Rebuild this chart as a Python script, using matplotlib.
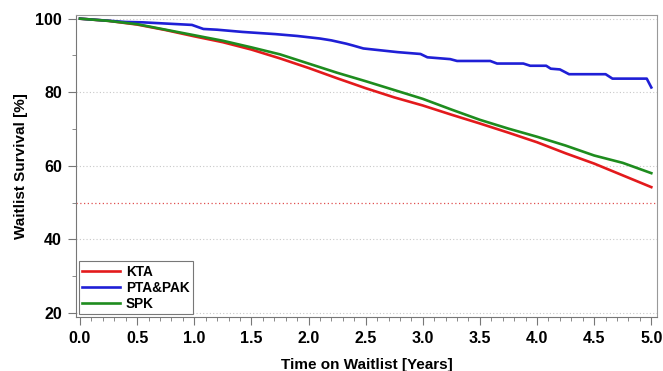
import matplotlib
matplotlib.use('Agg')
from matplotlib import pyplot as plt
from matplotlib.ticker import MultipleLocator

# KTA / SPK survival read every 0.25 years
t_grid = [0, 0.25, 0.5, 0.75, 1.0, 1.25, 1.5, 1.75, 2.0, 2.25, 2.5,
          2.75, 3.0, 3.25, 3.5, 3.75, 4.0, 4.25, 4.5, 4.75, 5.0]
kta = [100, 99.4, 98.4, 96.9, 95.2, 93.6, 91.6, 89.2, 86.6, 83.8, 81.1,
       78.6, 76.4, 73.9, 71.5, 69.0, 66.4, 63.4, 60.6, 57.4, 54.2]
spk = [100, 99.4, 98.5, 97.0, 95.5, 94.0, 92.2, 90.3, 87.8, 85.3, 83.0,
       80.6, 78.2, 75.3, 72.5, 70.1, 67.9, 65.5, 62.8, 60.8, 58.0]

t_pta = [0, 0.4, 0.55, 0.98, 1.08, 1.2, 1.42, 1.71, 1.9, 2.1, 2.2, 2.33,
         2.39, 2.48, 2.63, 2.78, 2.98, 3.04, 3.24, 3.30, 3.59, 3.65, 3.88,
         3.94, 4.08, 4.12, 4.2, 4.28, 4.60, 4.66, 4.96, 5.0]
pta = [100, 99.1, 99.0, 98.3, 97.2, 97.0, 96.4, 95.8, 95.3, 94.6, 94.1, 93.2,
       92.7, 91.9, 91.4, 90.9, 90.4, 89.5, 89.0, 88.5, 88.5, 87.8, 87.8,
       87.2, 87.2, 86.4, 86.2, 84.9, 84.9, 83.7, 83.7, 81.3]


def main():
    plt.rcParams['font.family'] = ['Liberation Sans', 'DejaVu Sans']
    plt.rcParams['font.weight'] = 'bold'

    fig = plt.figure(figsize=(6.63, 3.71), dpi=100)
    ax = fig.add_axes([0.1146, 0.1456, 0.8764, 0.814])

    ax.plot(t_grid, kta, color='#e31a1c', lw=1.9, label='KTA')
    ax.plot(t_pta, pta, color='#1f1fd6', lw=1.9, label='PTA&PAK')
    ax.plot(t_grid, spk, color='#1e8c1e', lw=1.9, label='SPK')
    ax.axhline(50, color='#e05050', lw=0.9, ls=(0, (1, 2)))

    ax.set_xlim(-0.035, 5.05)
    ax.set_ylim(18.9, 101)
    ax.xaxis.set_major_locator(MultipleLocator(0.5))
    ax.xaxis.set_minor_locator(MultipleLocator(0.1))
    ax.yaxis.set_major_locator(MultipleLocator(20))
    ax.yaxis.set_minor_locator(MultipleLocator(10))
    ax.xaxis.set_major_formatter(lambda v, p: f'{v:.1f}')
    ax.tick_params(which='major', length=6, color='#777777', labelsize=11.5, pad=4)
    ax.tick_params(which='minor', length=3, color='#777777')
    ax.grid(axis='y', which='major', color='#c8c8c8', ls=(0, (1, 2)), lw=0.8)
    for s in ax.spines.values():
        s.set_color('#999999')
    ax.spines['left'].set_color('#777777')
    ax.spines['bottom'].set_color('#777777')

    ax.set_xlabel('Time on Waitlist [Years]', fontsize=11, fontweight='bold', labelpad=9)
    ax.set_ylabel('Waitlist Survival [%]', fontsize=11, fontweight='bold', labelpad=5)

    leg = ax.legend(loc='lower left', fontsize=9.8, handlelength=2.8, handletextpad=0.4,
                    borderpad=0.25, labelspacing=0.15, fancybox=False,
                    borderaxespad=0.2, framealpha=1)
    leg.get_frame().set_edgecolor('#777777')
    leg.get_frame().set_linewidth(0.8)

    fig.savefig('out.png', dpi=100)


if __name__ == '__main__':
    main()
